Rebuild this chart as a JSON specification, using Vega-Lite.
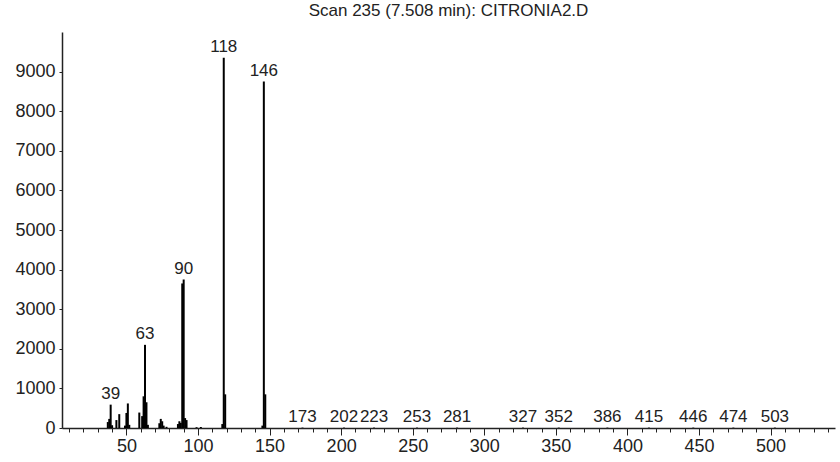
{
  "$schema": "https://vega.github.io/schema/vega-lite/v6.json",
  "width": 773,
  "height": 396,
  "autosize": {"type": "none"},
  "padding": {"left": 62, "top": 32, "right": 5, "bottom": 34},
  "background": "white",
  "title": {"text": "Scan 235 (7.508 min): CITRONIA2.D", "font": "Liberation Sans", "fontSize": 17, "fontWeight": "normal", "color": "#222222", "anchor": "middle", "offset": 12},
  "data": {"values": [
    {"mz": 37, "intensity": 150},
    {"mz": 38, "intensity": 230},
    {"mz": 39, "intensity": 590, "label": "39"},
    {"mz": 40, "intensity": 70},
    {"mz": 43, "intensity": 200},
    {"mz": 45, "intensity": 350},
    {"mz": 49, "intensity": 60},
    {"mz": 50, "intensity": 380},
    {"mz": 51, "intensity": 620},
    {"mz": 52, "intensity": 80},
    {"mz": 59, "intensity": 390},
    {"mz": 61, "intensity": 300},
    {"mz": 62, "intensity": 800},
    {"mz": 63, "intensity": 2100, "label": "63"},
    {"mz": 64, "intensity": 650},
    {"mz": 65, "intensity": 80},
    {"mz": 73, "intensity": 120},
    {"mz": 74, "intensity": 230},
    {"mz": 75, "intensity": 170},
    {"mz": 76, "intensity": 60},
    {"mz": 78, "intensity": 30},
    {"mz": 86, "intensity": 100},
    {"mz": 87, "intensity": 170},
    {"mz": 88, "intensity": 130},
    {"mz": 89, "intensity": 3650},
    {"mz": 90, "intensity": 3750, "label": "90"},
    {"mz": 91, "intensity": 250},
    {"mz": 92, "intensity": 200},
    {"mz": 99, "intensity": 20},
    {"mz": 102, "intensity": 25},
    {"mz": 117, "intensity": 100},
    {"mz": 118, "intensity": 9350, "label": "118"},
    {"mz": 119, "intensity": 850},
    {"mz": 145, "intensity": 60},
    {"mz": 146, "intensity": 8750, "label": "146"},
    {"mz": 147, "intensity": 850},
    {"mz": 173, "intensity": 10, "label": "173"},
    {"mz": 202, "intensity": 10, "label": "202"},
    {"mz": 223, "intensity": 10, "label": "223"},
    {"mz": 253, "intensity": 10, "label": "253"},
    {"mz": 281, "intensity": 10, "label": "281"},
    {"mz": 327, "intensity": 10, "label": "327"},
    {"mz": 352, "intensity": 10, "label": "352"},
    {"mz": 386, "intensity": 10, "label": "386"},
    {"mz": 415, "intensity": 10, "label": "415"},
    {"mz": 446, "intensity": 10, "label": "446"},
    {"mz": 474, "intensity": 10, "label": "474"},
    {"mz": 503, "intensity": 10, "label": "503"}
  ]},
  "config": {
    "view": {"stroke": null},
    "axis": {"grid": false, "labelFont": "Liberation Sans", "labelColor": "#222222", "domainColor": "#222222", "tickColor": "#222222"}
  },
  "layer": [
    {
      "mark": {"type": "rule", "color": "black", "strokeWidth": 2},
      "encoding": {
        "x": {"field": "mz", "type": "quantitative",
          "scale": {"domain": [5, 545], "nice": false, "zero": false},
          "axis": {"orient": "bottom", "title": null, "values": [50, 100, 150, 200, 250, 300, 350, 400, 450, 500], "tickSize": 7, "labelFontSize": 18, "labelPadding": 2, "domainWidth": 1.5, "labelFlush": false}},
        "y": {"field": "intensity", "type": "quantitative",
          "scale": {"domain": [0, 10000], "nice": false},
          "axis": {"title": null, "values": [0, 1000, 2000, 3000, 4000, 5000, 6000, 7000, 8000, 9000], "tickSize": 3, "labelFontSize": 18, "labelPadding": 4, "domainWidth": 1.5, "format": "d"}},
        "y2": {"datum": 0}
      }
    },
    {
      "transform": [{"filter": "isValid(datum.label)"}],
      "mark": {"type": "text", "baseline": "alphabetic", "dy": -6, "fontSize": 17, "font": "Liberation Sans", "color": "#222222"},
      "encoding": {
        "x": {"field": "mz", "type": "quantitative",
          "axis": {"orient": "bottom", "title": null, "labels": false, "domain": false, "tickSize": 4,
            "values": [10, 20, 30, 40, 50, 60, 70, 80, 90, 100, 110, 120, 130, 140, 150, 160, 170, 180, 190, 200, 210, 220, 230, 240, 250, 260, 270, 280, 290, 300, 310, 320, 330, 340, 350, 360, 370, 380, 390, 400, 410, 420, 430, 440, 450, 460, 470, 480, 490, 500, 510, 520, 530, 540]}},
        "y": {"field": "intensity", "type": "quantitative"},
        "text": {"field": "label", "type": "nominal"}
      }
    }
  ],
  "resolve": {"axis": {"x": "independent"}}
}
